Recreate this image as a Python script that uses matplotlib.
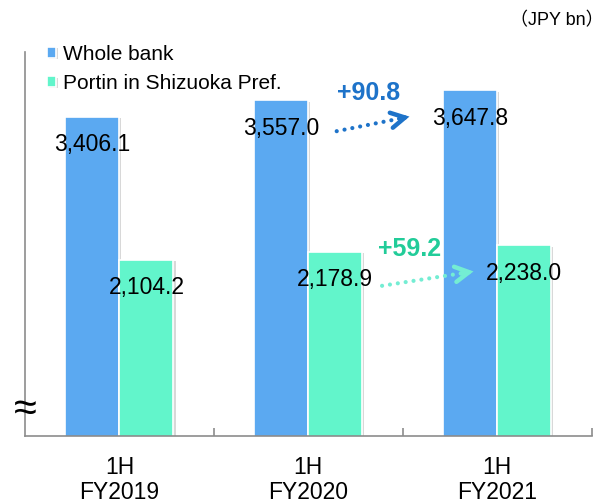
import numpy as np
import matplotlib.pyplot as plt
import matplotlib.patheffects as pe

plt.rcParams['font.family'] = ['Liberation Sans', 'Noto Sans CJK JP', 'DejaVu Sans']

# Data (JPY bn)
periods = ['1H\nFY2019', '1H\nFY2020', '1H\nFY2021']
whole_bank = [3406.1, 3557.0, 3647.8]
shizuoka = [2104.2, 2178.9, 2238.0]
change_labels = ['+90.8', '+59.2']

blue = '#5BA9F1'
green = '#62F5CB'
blue_txt = '#1E73C9'
green_txt = '#22CC99'
green_arrow = '#74EDD3'

fig = plt.figure(figsize=(6.07, 5.03), dpi=100)
ax = fig.add_axes([0.041, 0.133, 0.934, 0.764])

x = np.arange(len(periods))
w = 0.286
shadow = [pe.SimplePatchShadow(offset=(1.5, -1), shadow_rgbFace='#909090', alpha=0.35), pe.Normal()]
b1 = ax.bar(x - w / 2, whole_bank, w, color=blue, edgecolor='white', linewidth=1.2,
            label='Whole bank', zorder=2)
b2 = ax.bar(x + w / 2, shizuoka, w, color=green, edgecolor='white', linewidth=1.2,
            label='Portin in Shizuoka Pref.', zorder=2)
for b in list(b1) + list(b2):
    b.set_path_effects(shadow)

ax.set_xlim(-0.5, 2.5)
ax.set_ylim(500, 4000)

# data labels
for xi, v in zip(x - w / 2, whole_bank):
    ax.annotate(f'{v:,.1f}', (xi, v), xytext=(0, -20), textcoords='offset points',
                ha='center', va='center', fontsize=16.5, zorder=4)
for xi, v in zip(x + w / 2, shizuoka):
    ax.annotate(f'{v:,.1f}', (xi, v), xytext=(0, -20), textcoords='offset points',
                ha='center', va='center', fontsize=16.5, zorder=4)

# change arrows: dotted line + open chevron head
def change_arrow(x0, y0, x1, y1, color):
    ax.plot([x0, x1], [y0, y1], linestyle=(0, (0.01, 1.9)), color=color, lw=3,
            dash_capstyle='round', solid_capstyle='round', zorder=3)
    dx, dy = x1 - x0, y1 - y0
    ax.annotate('', xy=(x1 + dx * 0.1, y1 + dy * 0.1), xytext=(x1 - dx * 0.05, y1 - dy * 0.05),
                arrowprops=dict(arrowstyle='->,head_length=1.0,head_width=0.55',
                                color=color, lw=3.2, shrinkA=0, shrinkB=0,
                                capstyle='round', joinstyle='miter'),
                zorder=3)

change_arrow(1.15, whole_bank[1] - 280, 1.50, whole_bank[2] - 250, blue_txt)
ax.text(1.32, whole_bank[2] - 20, change_labels[0], color=blue_txt, fontsize=18,
        fontweight='bold', ha='center', va='center')
change_arrow(1.39, shizuoka[1] - 310, 1.83, shizuoka[2] - 250, green_arrow)
ax.text(1.535, shizuoka[2] - 30, change_labels[1], color=green_txt, fontsize=18,
        fontweight='bold', ha='center', va='center')

# axes styling
for s in ['top', 'right']:
    ax.spines[s].set_visible(False)
for s in ['left', 'bottom']:
    ax.spines[s].set_color('#8C8C8C')
    ax.spines[s].set_linewidth(1.2)
ax.set_yticks([])
ax.set_xticks(x)
ax.set_xticklabels(periods, fontsize=16.5, linespacing=1.15)
ax.tick_params(axis='x', which='major', length=0, pad=14)
ax.set_xticks([0.5, 1.5, 2.5], minor=True)
ax.tick_params(axis='x', which='minor', direction='in', length=6, color='#8C8C8C', width=1.2)

# axis break mark
ax.text(-0.5, 740, '≈', fontsize=30, ha='center', va='center',
        transform=ax.transData, clip_on=False)

leg = ax.legend(loc='upper left', bbox_to_anchor=(0.025, 1.04), frameon=False,
                fontsize=15, handlelength=0.4, handleheight=0.4, handletextpad=0.35,
                labelspacing=0.5, borderaxespad=0)

fig.text(0.995, 0.958, '（JPY bn）', ha='right', va='center', fontsize=13)

fig.savefig('out.png', dpi=100)
